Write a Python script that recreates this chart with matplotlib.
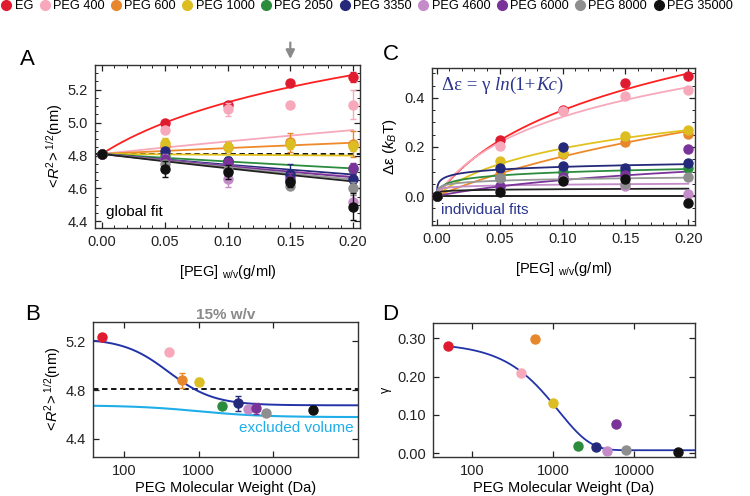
import numpy as np
import matplotlib
matplotlib.use("Agg")
import matplotlib.pyplot as plt
from matplotlib.lines import Line2D
from matplotlib.ticker import MultipleLocator, FixedLocator, NullLocator, FormatStrFormatter

plt.rcParams["font.family"] = ["Liberation Sans", "DejaVu Sans"]
plt.rcParams["mathtext.fontset"] = "custom"
plt.rcParams["mathtext.rm"] = "Liberation Sans"
plt.rcParams["mathtext.it"] = "Liberation Sans:italic"
plt.rcParams["mathtext.bf"] = "Liberation Sans:bold"

# ---- dados ----
series = ["EG", "PEG 400", "PEG 600", "PEG 1000", "PEG 2050",
          "PEG 3350", "PEG 4600", "PEG 6000", "PEG 8000", "PEG 35000"]
cores = ["#e01b30", "#f7a9bb", "#e8862c", "#dcbd22", "#2b8c3e",
         "#24297a", "#c48bc9", "#7a3399", "#8e8e8e", "#111111"]
cores_fit = ["#ff2020", "#f7a9bb", "#ee8a2a", "#e2c21e", "#2b8c3e",
             "#24297a", "#c48bc9", "#7a3399", "#999999", "#222222"]
massa = [50, 400, 600, 1000, 2050, 3350, 4600, 6000, 8000, 35000]

conc = [0.0, 0.05, 0.10, 0.15, 0.20]

# painel A: <R^2>^1/2 (nm) por serie x concentracao
rg = [[4.81, 4.995, 5.105, 5.24, 5.275],
      [4.81, 4.955, 5.08, 5.11, 5.11],
      [4.81, 4.86, 4.85, 4.88, 4.87],
      [4.81, 4.875, 4.85, 4.87, 4.86],
      [4.81, 4.80, 4.77, 4.67, 4.72],
      [4.81, 4.825, 4.77, 4.69, 4.66],
      [4.81, 4.78, 4.66, 4.645, 4.52],
      [4.81, 4.78, 4.76, 4.65, 4.725],
      [4.81, 4.75, 4.71, 4.615, 4.60],
      [4.81, 4.72, 4.70, 4.64, 4.49]]
rg_err = [[0, 0.01, 0.02, 0.02, 0.03],
          [0, 0.02, 0.04, 0.01, 0.09],
          [0, 0.03, 0.03, 0.06, 0.08],
          [0, 0.03, 0.03, 0.03, 0.03],
          [0, 0.02, 0.02, 0.02, 0.02],
          [0, 0.02, 0.02, 0.06, 0.03],
          [0, 0.03, 0.05, 0.02, 0.04],
          [0, 0.02, 0.02, 0.045, 0.03],
          [0, 0.02, 0.02, 0.02, 0.04],
          [0, 0.05, 0.04, 0.03, 0.08]]
rg0 = 4.81
# ajuste global: R = R0 + a*ln(1+K c), a definido pelo valor em c=0.2
rg_fit_fim = [5.29, 4.955, 4.878, 4.80, 4.722, 4.685, 4.672, 4.668, 4.655, 4.643]
rg_fit_K = [13.5, 1.0, 1.0, 1.0, 1.0, 1.0, 1.0, 1.0, 1.0, 1.0]

# painel C: delta epsilon (kBT)
deps = [[0, 0.229, 0.35, 0.46, 0.49],
        [0, 0.204, 0.345, 0.408, 0.433],
        [0, 0.09, 0.172, 0.22, 0.253],
        [0, 0.143, 0.175, 0.245, 0.269],
        [0, 0.075, 0.10, 0.10, 0.113],
        [0, 0.113, 0.20, 0.113, 0.134],
        [0, 0.033, 0.07, 0.04, 0.008],
        [0, 0.04, 0.077, 0.085, 0.19],
        [0, 0.074, 0.065, 0.05, 0.077],
        [0, 0.018, 0.06, 0.07, -0.027]]
deps_extra_x = [0.10]          # segundo ponto PEG 3350
deps_extra_y = [0.122]

# painel D: gamma por massa molecular (tambem usado nos ajustes de C)
gama = [0.279, 0.2085, 0.297, 0.131, 0.019, 0.016, 0.005, 0.077, 0.009, 0.003]
K_fit = [25.0, 37.0, 7.2, 34.0, 1630.0, 16900.0, 1.1e5, 13.3, 2.08e4, 1.1e5]

# ajuste em B (Hill) e volume excluido
B_topo, B_base, B_M0, B_n = 5.225, 4.675, 395.0, 1.43
ev_topo, ev_base, ev_M0, ev_n = 4.675, 4.578, 1000.0, 1.0
# ajuste em D: gamma = g_inf + g_amp*exp(-(M/M0)^p)
D_inf, D_amp, D_M0, D_p = 0.008, 0.28, 1165.0, 1.1

LBL_X = r"[PEG] $_{\mathrm{w/v}}$(g/ml)"
LBL_R = r"$<\!R^2\!>^{1/2}$(nm)"


def estilo(ax):
    for s in ax.spines.values():
        s.set_linewidth(1.0)
        s.set_color("#333333")
    ax.tick_params(which="both", direction="in", top=True, right=True,
                   labelsize=10.5, colors="#222222", pad=5)
    ax.tick_params(which="major", length=4, width=0.9)
    ax.tick_params(which="minor", length=2, width=0.7)


fig = plt.figure(figsize=(7.5, 4.96), dpi=100)
axA = fig.add_axes([0.1267, 0.5403, 0.3533, 0.3286])
axC = fig.add_axes([0.576, 0.5464, 0.3507, 0.3165])
axB = fig.add_axes([0.124, 0.0786, 0.3533, 0.2722])
axD = fig.add_axes([0.5773, 0.0786, 0.3493, 0.2702])

cc = np.linspace(0, 0.2, 300)
ms = 6.5

# ---- A ----
axA.axhline(rg0, color="black", ls=(0, (3, 2)), lw=1.3, zorder=1)
for i in range(len(series)):
    a = (rg_fit_fim[i] - rg0) / np.log(1 + rg_fit_K[i] * 0.2)
    axA.plot(cc, rg0 + a * np.log(1 + rg_fit_K[i] * cc), color=cores_fit[i], lw=1.3, zorder=2)
for i in range(len(series)):
    axA.errorbar(conc, rg[i], yerr=rg_err[i], fmt="o", color=cores[i], ms=ms,
                 elinewidth=1.0, capsize=2.5, capthick=1.0, zorder=3 + i)
axA.set_xlim(-0.0055, 0.2055)
axA.set_ylim(4.36, 5.35)
axA.xaxis.set_major_locator(MultipleLocator(0.05))
axA.xaxis.set_minor_locator(MultipleLocator(0.01))
axA.yaxis.set_major_locator(MultipleLocator(0.2))
axA.yaxis.set_minor_locator(MultipleLocator(0.05))
axA.xaxis.set_major_formatter(FormatStrFormatter("%.2f"))
axA.yaxis.set_major_formatter(FormatStrFormatter("%.1f"))
estilo(axA)
axA.set_xlabel(LBL_X, fontsize=10.5, labelpad=10)
axA.set_ylabel(LBL_R, fontsize=10.5, labelpad=2)
axA.text(0.04, 0.1, "global fit", transform=axA.transAxes, fontsize=11, va="center")
axA.annotate("", xy=(0.15, 1.02), xytext=(0.15, 1.155),
             xycoords=("data", "axes fraction"), textcoords=("data", "axes fraction"),
             arrowprops=dict(arrowstyle="-|>", color="#8a8a8a", lw=1.6, mutation_scale=13),
             annotation_clip=False)

# ---- C ----
axC.axhline(0, color="black", lw=1.2, zorder=1)
for i in range(len(series)):
    axC.plot(cc, gama[i] * np.log(1 + K_fit[i] * cc), color=cores_fit[i], lw=1.3, zorder=2)
for i in range(len(series)):
    axC.plot(conc, deps[i], "o", color=cores[i], ms=ms, zorder=3 + i)
axC.plot(deps_extra_x, deps_extra_y, "o", color=cores[5], ms=ms, zorder=8)
axC.set_xlim(-0.0037, 0.2053)
axC.set_ylim(-0.118, 0.522)
axC.xaxis.set_major_locator(MultipleLocator(0.05))
axC.xaxis.set_minor_locator(MultipleLocator(0.01))
axC.yaxis.set_major_locator(MultipleLocator(0.2))
axC.yaxis.set_minor_locator(MultipleLocator(0.05))
axC.xaxis.set_major_formatter(FormatStrFormatter("%.2f"))
axC.yaxis.set_major_formatter(FormatStrFormatter("%.1f"))
estilo(axC)
axC.set_xlabel(LBL_X, fontsize=10.5, labelpad=10)
axC.set_ylabel(r"Δε ($k_B$T)", fontsize=11, labelpad=4)
axC.text(0.035, 0.095, "individual fits", transform=axC.transAxes, fontsize=11,
         color="#2b3590", va="center")
# equacao em serifa, com partes italicas
partes = [("Δε = γ ", "normal"), ("ln", "italic"), ("(1+", "normal"),
          ("Kc", "italic"), (")", "normal")]
kw = dict(fontsize=13.5, color="#2b3590", family="Liberation Serif")
prev = axC.text(0.037, 0.835, partes[0][0], transform=axC.transAxes,
                style=partes[0][1], va="bottom", **kw)
for s, st in partes[1:]:
    prev = axC.annotate(s, xy=(1, 0), xycoords=prev, va="bottom", ha="left", style=st, **kw)

# ---- B ----
mm = np.logspace(np.log10(38), np.log10(140000), 400)
axB.axhline(rg0, color="black", ls=(0, (3, 2)), lw=1.3, zorder=1)
axB.plot(mm, ev_base + (ev_topo - ev_base) / (1 + (mm / ev_M0) ** ev_n),
         color="#1faee8", lw=1.5, zorder=2)
axB.plot(mm, B_base + (B_topo - B_base) / (1 + (mm / B_M0) ** B_n),
         color="#2233a8", lw=1.4, zorder=2)
rg15 = [r[3] for r in rg]
rg15_err = [e[3] for e in rg_err]
for i in range(len(series)):
    axB.errorbar([massa[i]], [rg15[i]], yerr=[rg15_err[i]], fmt="o", color=cores[i],
                 ms=ms, elinewidth=1.0, capsize=2.5, capthick=1.0, zorder=3 + i)
axB.set_xscale("log")
axB.set_xlim(38, 140000)
axB.set_ylim(4.25, 5.36)
axB.xaxis.set_major_locator(FixedLocator([100, 1000, 10000]))
axB.xaxis.set_minor_locator(NullLocator())
axB.xaxis.set_major_formatter(FormatStrFormatter("%d"))
axB.yaxis.set_major_locator(FixedLocator([4.4, 4.8, 5.2]))
axB.yaxis.set_major_formatter(FormatStrFormatter("%.1f"))
estilo(axB)
axB.set_xlabel("PEG Molecular Weight (Da)", fontsize=10.5, labelpad=2)
axB.set_ylabel(LBL_R, fontsize=10.5, labelpad=2)
axB.set_title("15% w/v", fontsize=11, color="#8a8a8a", fontweight="bold", pad=2)
axB.text(0.985, 0.215, "excluded volume", transform=axB.transAxes, ha="right",
         va="center", fontsize=11, color="#1faee8")

# ---- D ----
md = np.logspace(np.log10(50), np.log10(60000), 400)
axD.plot(md, D_inf + D_amp * np.exp(-(md / D_M0) ** D_p), color="#2233a8", lw=1.3, zorder=2)
for i in range(len(series)):
    axD.plot([massa[i]], [gama[i]], "o", color=cores[i], ms=ms, zorder=3 + i)
axD.set_xscale("log")
axD.set_xlim(33, 56000)
axD.set_ylim(-0.0097, 0.34)
axD.xaxis.set_major_locator(FixedLocator([100, 1000, 10000]))
axD.xaxis.set_minor_locator(NullLocator())
axD.xaxis.set_major_formatter(FormatStrFormatter("%d"))
axD.yaxis.set_major_locator(FixedLocator([0.0, 0.1, 0.2, 0.3]))
axD.yaxis.set_major_formatter(FormatStrFormatter("%.2f"))
estilo(axD)
axD.set_xlabel("PEG Molecular Weight (Da)", fontsize=10.5, labelpad=2)
axD.set_ylabel("γ", fontsize=9, labelpad=4)

# letras dos paineis
for txt, x, y in [("A", 0.027, 0.88), ("C", 0.51, 0.89), ("B", 0.033, 0.365), ("D", 0.51, 0.365)]:
    fig.text(x, y, txt, fontsize=16, va="center")

# legenda no topo
h = [Line2D([0], [0], marker="o", ls="", color=c, ms=7) for c in cores]
fig.legend(handles=h, labels=series, loc="upper left", bbox_to_anchor=(-0.007, 1.012),
           ncol=len(series), frameon=False, fontsize=9.2, handlelength=0.8,
           handletextpad=0.25, columnspacing=0.5, borderpad=0.0)

fig.savefig("out.png", dpi=100)
